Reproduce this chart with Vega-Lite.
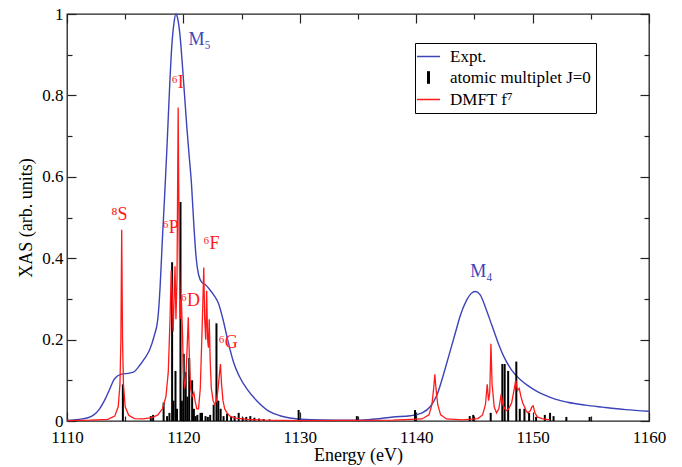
{
  "$schema": "https://vega.github.io/schema/vega-lite/v6.json",
  "autosize": "none",
  "width": 582,
  "height": 407,
  "padding": {"left": 67, "top": 14, "right": 33, "bottom": 46},
  "background": "white",
  "config": {
    "font": "Liberation Serif",
    "view": {"stroke": "#222222", "strokeWidth": 1.3},
    "axis": {
      "domain": false,
      "grid": false,
      "tickColor": "#222222",
      "tickWidth": 1.2,
      "labelColor": "black",
      "labelFont": "Liberation Serif",
      "labelFontSize": 17,
      "titleFont": "Liberation Serif",
      "titleFontSize": 18,
      "titleFontWeight": "normal",
      "titleColor": "black"
    },
    "legend": {"labelFont": "Liberation Serif"}
  },
  "datasets": {
    "expt": [
      {"E": 1110, "v": 0.002}, {"E": 1111, "v": 0.004}, {"E": 1111.8, "v": 0.008},
      {"E": 1112.3, "v": 0.015}, {"E": 1112.8, "v": 0.03}, {"E": 1113.3, "v": 0.055},
      {"E": 1113.7, "v": 0.08}, {"E": 1114.0, "v": 0.1}, {"E": 1114.3, "v": 0.11},
      {"E": 1114.7, "v": 0.115}, {"E": 1115.2, "v": 0.117}, {"E": 1115.7, "v": 0.12},
      {"E": 1116.2, "v": 0.135}, {"E": 1116.7, "v": 0.155}, {"E": 1117.1, "v": 0.175},
      {"E": 1117.5, "v": 0.21}, {"E": 1117.8, "v": 0.25}, {"E": 1118.0, "v": 0.33},
      {"E": 1118.2, "v": 0.45}, {"E": 1118.4, "v": 0.56}, {"E": 1118.6, "v": 0.68},
      {"E": 1118.8, "v": 0.81}, {"E": 1119.0, "v": 0.92}, {"E": 1119.2, "v": 0.98},
      {"E": 1119.35, "v": 1.0}, {"E": 1119.5, "v": 0.99}, {"E": 1119.7, "v": 0.95},
      {"E": 1119.9, "v": 0.88}, {"E": 1120.1, "v": 0.8}, {"E": 1120.3, "v": 0.72},
      {"E": 1120.5, "v": 0.65}, {"E": 1120.7, "v": 0.58}, {"E": 1120.9, "v": 0.48},
      {"E": 1121.1, "v": 0.4}, {"E": 1121.3, "v": 0.36}, {"E": 1121.6, "v": 0.34},
      {"E": 1121.9, "v": 0.335}, {"E": 1122.2, "v": 0.325}, {"E": 1122.6, "v": 0.31},
      {"E": 1123.0, "v": 0.29}, {"E": 1123.4, "v": 0.25}, {"E": 1123.8, "v": 0.2},
      {"E": 1124.3, "v": 0.145}, {"E": 1124.8, "v": 0.11}, {"E": 1125.5, "v": 0.077},
      {"E": 1126.3, "v": 0.05}, {"E": 1127.3, "v": 0.025}, {"E": 1128.3, "v": 0.013},
      {"E": 1129.5, "v": 0.006}, {"E": 1131, "v": 0.003}, {"E": 1133, "v": 0.002},
      {"E": 1135, "v": 0.002}, {"E": 1136.5, "v": 0.005}, {"E": 1138, "v": 0.01},
      {"E": 1139.5, "v": 0.013}, {"E": 1140.5, "v": 0.02}, {"E": 1141.2, "v": 0.035},
      {"E": 1141.8, "v": 0.065}, {"E": 1142.3, "v": 0.11}, {"E": 1142.8, "v": 0.16},
      {"E": 1143.3, "v": 0.21}, {"E": 1143.8, "v": 0.26}, {"E": 1144.3, "v": 0.295},
      {"E": 1144.8, "v": 0.315}, {"E": 1145.1, "v": 0.318}, {"E": 1145.5, "v": 0.31},
      {"E": 1146.0, "v": 0.275}, {"E": 1146.5, "v": 0.235}, {"E": 1147.0, "v": 0.195},
      {"E": 1147.5, "v": 0.16}, {"E": 1148.2, "v": 0.125}, {"E": 1149.0, "v": 0.1},
      {"E": 1149.6, "v": 0.087}, {"E": 1150.3, "v": 0.074}, {"E": 1151.0, "v": 0.064},
      {"E": 1152.0, "v": 0.053}, {"E": 1153.0, "v": 0.046}, {"E": 1154.5, "v": 0.039},
      {"E": 1156.0, "v": 0.034}, {"E": 1158.0, "v": 0.028}, {"E": 1160.0, "v": 0.024}
    ],
    "dmft": [
      {"E": 1110.0, "v": 0.001}, {"E": 1112.0, "v": 0.002}, {"E": 1113.5, "v": 0.004},
      {"E": 1114.1, "v": 0.012}, {"E": 1114.4, "v": 0.035}, {"E": 1114.55, "v": 0.09},
      {"E": 1114.63, "v": 0.2}, {"E": 1114.7, "v": 0.47}, {"E": 1114.77, "v": 0.2},
      {"E": 1114.85, "v": 0.09}, {"E": 1115.0, "v": 0.035}, {"E": 1115.3, "v": 0.014},
      {"E": 1115.8, "v": 0.006}, {"E": 1116.5, "v": 0.005}, {"E": 1117.3, "v": 0.008},
      {"E": 1117.8, "v": 0.015}, {"E": 1118.2, "v": 0.03}, {"E": 1118.5, "v": 0.06},
      {"E": 1118.7, "v": 0.12}, {"E": 1118.85, "v": 0.25}, {"E": 1118.95, "v": 0.37},
      {"E": 1119.05, "v": 0.3}, {"E": 1119.12, "v": 0.22}, {"E": 1119.2, "v": 0.3},
      {"E": 1119.28, "v": 0.38}, {"E": 1119.36, "v": 0.25}, {"E": 1119.45, "v": 0.35},
      {"E": 1119.55, "v": 0.77}, {"E": 1119.63, "v": 0.45}, {"E": 1119.72, "v": 0.25},
      {"E": 1119.82, "v": 0.3}, {"E": 1119.92, "v": 0.22}, {"E": 1120.0, "v": 0.12},
      {"E": 1120.1, "v": 0.08}, {"E": 1120.2, "v": 0.1}, {"E": 1120.32, "v": 0.18},
      {"E": 1120.42, "v": 0.255}, {"E": 1120.52, "v": 0.15}, {"E": 1120.62, "v": 0.08},
      {"E": 1120.75, "v": 0.06}, {"E": 1120.9, "v": 0.07}, {"E": 1121.0, "v": 0.05},
      {"E": 1121.15, "v": 0.03}, {"E": 1121.3, "v": 0.03}, {"E": 1121.45, "v": 0.08},
      {"E": 1121.58, "v": 0.2}, {"E": 1121.68, "v": 0.3}, {"E": 1121.75, "v": 0.377},
      {"E": 1121.83, "v": 0.25}, {"E": 1121.92, "v": 0.2}, {"E": 1122.0, "v": 0.32},
      {"E": 1122.08, "v": 0.2}, {"E": 1122.15, "v": 0.18}, {"E": 1122.22, "v": 0.25},
      {"E": 1122.3, "v": 0.15}, {"E": 1122.4, "v": 0.08}, {"E": 1122.55, "v": 0.05},
      {"E": 1122.7, "v": 0.04}, {"E": 1122.85, "v": 0.05}, {"E": 1122.98, "v": 0.08},
      {"E": 1123.08, "v": 0.11}, {"E": 1123.18, "v": 0.14}, {"E": 1123.28, "v": 0.09},
      {"E": 1123.4, "v": 0.05}, {"E": 1123.55, "v": 0.03}, {"E": 1123.75, "v": 0.02},
      {"E": 1124.0, "v": 0.012}, {"E": 1124.5, "v": 0.007}, {"E": 1125.5, "v": 0.004},
      {"E": 1127, "v": 0.002}, {"E": 1130, "v": 0.001}, {"E": 1138, "v": 0.002},
      {"E": 1140.5, "v": 0.005}, {"E": 1141.1, "v": 0.015}, {"E": 1141.35, "v": 0.04},
      {"E": 1141.5, "v": 0.08}, {"E": 1141.6, "v": 0.115}, {"E": 1141.7, "v": 0.08},
      {"E": 1141.85, "v": 0.04}, {"E": 1142.1, "v": 0.015}, {"E": 1142.6, "v": 0.005},
      {"E": 1144, "v": 0.003}, {"E": 1145.3, "v": 0.006}, {"E": 1145.7, "v": 0.015},
      {"E": 1145.95, "v": 0.04}, {"E": 1146.1, "v": 0.09}, {"E": 1146.22, "v": 0.05},
      {"E": 1146.32, "v": 0.07}, {"E": 1146.42, "v": 0.19}, {"E": 1146.52, "v": 0.09},
      {"E": 1146.7, "v": 0.035}, {"E": 1146.9, "v": 0.02}, {"E": 1147.1, "v": 0.03},
      {"E": 1147.3, "v": 0.066}, {"E": 1147.45, "v": 0.04}, {"E": 1147.7, "v": 0.025},
      {"E": 1147.95, "v": 0.03}, {"E": 1148.2, "v": 0.045}, {"E": 1148.4, "v": 0.075},
      {"E": 1148.55, "v": 0.1}, {"E": 1148.7, "v": 0.075}, {"E": 1148.85, "v": 0.08},
      {"E": 1149.0, "v": 0.06}, {"E": 1149.15, "v": 0.045}, {"E": 1149.3, "v": 0.035},
      {"E": 1149.45, "v": 0.025}, {"E": 1149.6, "v": 0.02}, {"E": 1149.8, "v": 0.025},
      {"E": 1149.95, "v": 0.035}, {"E": 1150.05, "v": 0.037}, {"E": 1150.2, "v": 0.02},
      {"E": 1150.4, "v": 0.01}, {"E": 1150.8, "v": 0.006}, {"E": 1151.5, "v": 0.003}
    ],
    "sticks": [
      {"E": 1114.8, "v": 0.09}, {"E": 1117.2, "v": 0.012}, {"E": 1117.4, "v": 0.015},
      {"E": 1118.3, "v": 0.045}, {"E": 1118.6, "v": 0.012}, {"E": 1118.8, "v": 0.02},
      {"E": 1119.03, "v": 0.39}, {"E": 1119.15, "v": 0.05}, {"E": 1119.32, "v": 0.123},
      {"E": 1119.45, "v": 0.03}, {"E": 1119.75, "v": 0.538}, {"E": 1119.87, "v": 0.05},
      {"E": 1120.03, "v": 0.165}, {"E": 1120.2, "v": 0.12}, {"E": 1120.35, "v": 0.06},
      {"E": 1120.5, "v": 0.155}, {"E": 1120.75, "v": 0.1}, {"E": 1120.9, "v": 0.03},
      {"E": 1121.05, "v": 0.012}, {"E": 1121.2, "v": 0.015}, {"E": 1121.47, "v": 0.02},
      {"E": 1121.6, "v": 0.02}, {"E": 1121.9, "v": 0.012}, {"E": 1122.1, "v": 0.01},
      {"E": 1122.3, "v": 0.015}, {"E": 1122.6, "v": 0.04}, {"E": 1122.84, "v": 0.24},
      {"E": 1123.0, "v": 0.05}, {"E": 1123.2, "v": 0.03}, {"E": 1123.45, "v": 0.012},
      {"E": 1123.75, "v": 0.018}, {"E": 1124.1, "v": 0.01}, {"E": 1124.4, "v": 0.012},
      {"E": 1124.75, "v": 0.02}, {"E": 1125.1, "v": 0.008}, {"E": 1125.4, "v": 0.01},
      {"E": 1125.75, "v": 0.012}, {"E": 1126.1, "v": 0.008}, {"E": 1126.5, "v": 0.006},
      {"E": 1126.9, "v": 0.005}, {"E": 1127.4, "v": 0.004}, {"E": 1129.9, "v": 0.027},
      {"E": 1134.9, "v": 0.012}, {"E": 1139.9, "v": 0.027}, {"E": 1144.6, "v": 0.012},
      {"E": 1144.9, "v": 0.015}, {"E": 1146.4, "v": 0.02}, {"E": 1147.4, "v": 0.14},
      {"E": 1147.6, "v": 0.14}, {"E": 1147.9, "v": 0.123}, {"E": 1148.6, "v": 0.146},
      {"E": 1148.9, "v": 0.03}, {"E": 1149.3, "v": 0.03}, {"E": 1149.7, "v": 0.02},
      {"E": 1150.3, "v": 0.01}, {"E": 1151.05, "v": 0.015}, {"E": 1151.5, "v": 0.02},
      {"E": 1151.8, "v": 0.012}, {"E": 1152.9, "v": 0.01}, {"E": 1154.9, "v": 0.01}
    ],
    "redlabels": [
      {"E": 1114.5, "v": 0.507, "t": "⁸S"},
      {"E": 1119.5, "v": 0.83, "t": "⁶I"},
      {"E": 1118.9, "v": 0.475, "t": "⁶P"},
      {"E": 1120.6, "v": 0.296, "t": "⁶D"},
      {"E": 1122.4, "v": 0.436, "t": "⁶F"},
      {"E": 1123.85, "v": 0.192, "t": "⁶G"}
    ],
    "bluelabels": [
      {"E": 1121.4, "v": 0.935, "t": "M₅"},
      {"E": 1145.6, "v": 0.365, "t": "M₄"}
    ]
  },
  "layer": [
    {
      "data": {"name": "expt"},
      "mark": {"type": "line", "strokeWidth": 1.4, "interpolate": "monotone"},
      "encoding": {
        "x": {
          "field": "E", "type": "quantitative",
          "scale": {"domain": [1110, 1160], "nice": false, "zero": false},
          "axis": {"orient": "bottom", "values": [1110, 1120, 1130, 1140, 1150, 1160], "format": "d", "tickSize": -9, "labelPadding": 17, "title": "Energy (eV)", "titlePadding": 1, "labelFlush": false, "labelFont": "Liberation Serif", "titleFont": "Liberation Serif"}
        },
        "y": {
          "field": "v", "type": "quantitative",
          "scale": {"domain": [0, 1], "nice": false},
          "axis": {"orient": "left", "values": [0, 0.2, 0.4, 0.6, 0.8, 1], "tickSize": -9, "labelPadding": 13, "labelExpr": "datum.value == 0 ? '0' : datum.value == 1 ? '1' : format(datum.value, '.1f')", "title": "XAS (arb. units)", "titlePadding": 6, "labelFlush": false, "labelFont": "Liberation Serif", "titleFont": "Liberation Serif"}
        },
        "color": {
          "datum": "Expt.",
          "scale": {"domain": ["Expt.", "atomic multiplet J=0", "DMFT f⁷"], "range": ["#3b44b8", "black", "#ff1a1a"]},
          "legend": {
            "orient": "none", "legendX": 348, "legendY": 29, "title": null,
            "strokeColor": "black", "fillColor": "white", "padding": 5,
            "symbolType": "stroke", "symbolSize": 529, "symbolStrokeWidth": 1.5,
            "labelFont": "Liberation Serif", "labelFontSize": 17, "labelColor": "black",
            "rowPadding": 0, "labelOffset": 13,
            "encode": {
              "symbols": {
                "update": {
                  "shape": {"signal": "datum.value === 'atomic multiplet J=0' ? 'M0,-0.55L0,0.55' : 'stroke'"},
                  "strokeWidth": {"signal": "datum.value === 'atomic multiplet J=0' ? 3 : 1.5"},
                  "stroke": {"scale": "color", "field": "value"}
                }
              }
            }
          }
        }
      }
    },
    {
      "data": {"name": "sticks"},
      "mark": {"type": "rule", "strokeWidth": 2},
      "encoding": {
        "x": {"field": "E", "type": "quantitative", "axis": {"orient": "bottom", "values": [1115, 1125, 1135, 1145, 1155], "tickSize": -5, "labels": false, "title": null}},
        "y": {"field": "v", "type": "quantitative", "axis": {"orient": "left", "values": [0.1, 0.3, 0.5, 0.7, 0.9], "tickSize": -5, "labels": false, "title": null}},
        "y2": {"datum": 0},
        "color": {"datum": "atomic multiplet J=0"}
      }
    },
    {
      "data": {"name": "dmft"},
      "mark": {"type": "line", "strokeWidth": 1.3},
      "encoding": {
        "x": {"field": "E", "type": "quantitative", "axis": {"orient": "top", "values": [1110, 1120, 1130, 1140, 1150, 1160], "tickSize": -9, "labels": false, "title": null}},
        "y": {"field": "v", "type": "quantitative", "axis": {"orient": "right", "values": [0, 0.2, 0.4, 0.6, 0.8, 1], "tickSize": -9, "labels": false, "title": null}},
        "color": {"datum": "DMFT f⁷"}
      }
    },
    {
      "data": {"name": "redlabels"},
      "mark": {"type": "text", "color": "#ff1a1a", "fontSize": 18, "font": "Liberation Serif", "baseline": "middle", "align": "center"},
      "encoding": {
        "x": {"field": "E", "type": "quantitative", "axis": {"orient": "top", "values": [1115, 1125, 1135, 1145, 1155], "tickSize": -5, "labels": false, "title": null}},
        "y": {"field": "v", "type": "quantitative", "axis": {"orient": "right", "values": [0.1, 0.3, 0.5, 0.7, 0.9], "tickSize": -5, "labels": false, "title": null}},
        "text": {"field": "t"}
      }
    },
    {
      "data": {"name": "bluelabels"},
      "mark": {"type": "text", "color": "#3b44b8", "fontSize": 18, "font": "Liberation Serif", "baseline": "middle", "align": "center"},
      "encoding": {
        "x": {"field": "E", "type": "quantitative", "axis": null},
        "y": {"field": "v", "type": "quantitative", "axis": null},
        "text": {"field": "t"}
      }
    }
  ],
  "resolve": {"axis": {"x": "independent", "y": "independent"}}
}
